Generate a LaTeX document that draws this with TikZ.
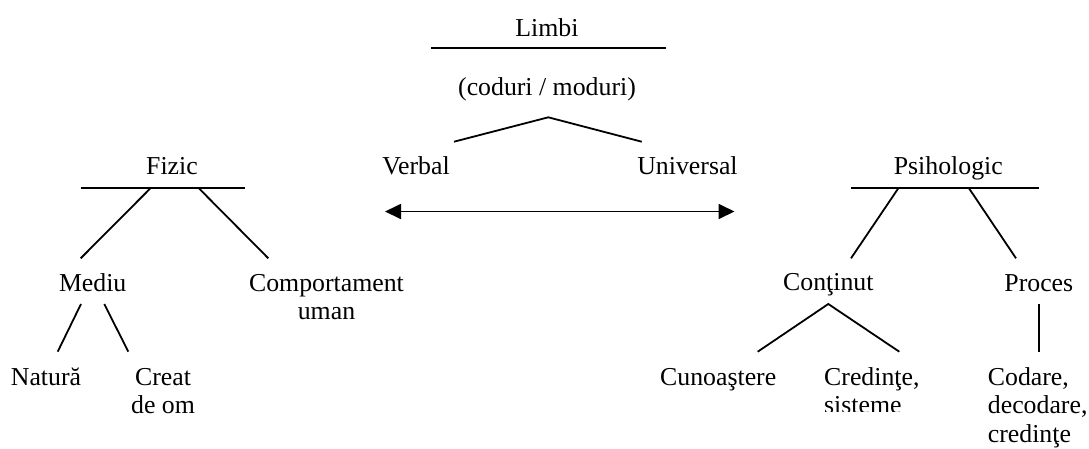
\documentclass[tikz,border=0pt]{standalone}
\usepackage{fontspec}
\setmainfont{Liberation Serif}
\usetikzlibrary{arrows.meta}
\newcommand{\mlc}[1]{\begin{tabular}[t]{@{}c@{}}#1\end{tabular}}
\newcommand{\mll}[1]{\begin{tabular}[t]{@{}l@{}}#1\end{tabular}}
\begin{document}
\begin{tikzpicture}[x=1pt,y=-1pt,
  lbl/.style={anchor=base,inner sep=0pt,font=\fontsize{25.8}{28.5}\selectfont},
  lblw/.style={lbl,anchor=base west},
  con/.style={line width=1.8pt},
  arr/.style={con,{Triangle[length=16pt,width=15pt]}-{Triangle[length=16pt,width=15pt]}}]
\useasboundingbox (0,0) rectangle (1089,448);
% top
\node[lbl] (limbi) at (547,36) {Limbi};
\coordinate (limbiL) at (431,47.7);
\coordinate (limbiR) at (666,47.7);
\draw[con] (limbiL) -- (limbiR);
\node[lbl] (coduri) at (547,95.5) {(coduri / moduri)};
\coordinate (apex) at (548.3,117.3);
\coordinate (verbalTop) at (454,141.7);
\coordinate (univTop) at (641.7,141.7);
\draw[con] (verbalTop) -- (apex) -- (univTop);
\node[lbl] (verbal) at (416,174.5) {Verbal};
\node[lbl] (universal) at (687.5,174.5) {Universal};
\coordinate (arrL) at (385,211.5);
\coordinate (arrR) at (734.5,211.5);
\draw[arr] (arrL) -- (arrR);
% left tree
\node[lbl] (fizic) at (172,174.5) {Fizic};
\coordinate (fizicL) at (80.7,187.7);
\coordinate (fizicR) at (245,187.7);
\draw[con] (fizicL) -- (fizicR);
\coordinate (fizicA) at (151,187.7);
\coordinate (fizicB) at (198.3,187.7);
\coordinate (mediuTop) at (80.7,258.3);
\coordinate (compTop) at (268.3,258.3);
\draw[con] (fizicA) -- (mediuTop);
\draw[con] (fizicB) -- (compTop);
\node[lbl] (mediu) at (92.7,291) {Mediu};
\node[lbl] (comp) at (326.5,291) {\mlc{Comportament\\uman}};
\coordinate (mediuA) at (81,304);
\coordinate (mediuB) at (104.3,304);
\coordinate (naturaTop) at (57.7,351.7);
\coordinate (creatTop) at (128.3,351.7);
\draw[con] (mediuA) -- (naturaTop);
\draw[con] (mediuB) -- (creatTop);
\node[lbl] (natura) at (46,385) {Natură};
\node[lbl] (creat) at (163,385) {\mlc{Creat\\de om}};
% right tree
\node[lbl] (psih) at (948.3,174.5) {Psihologic};
\coordinate (psihL) at (851,188.3);
\coordinate (psihR) at (1039.3,188.3);
\draw[con] (psihL) -- (psihR);
\coordinate (psihA) at (898.3,188.3);
\coordinate (psihB) at (969,188.3);
\coordinate (contTop) at (851,258.3);
\coordinate (procTop) at (1016,258.3);
\draw[con] (psihA) -- (contTop);
\draw[con] (psihB) -- (procTop);
\node[lbl] (continut) at (828.3,290.7) {Conţinut};
\node[lbl] (proces) at (1038.8,291) {Proces};
\coordinate (contApex) at (828.3,304);
\coordinate (cunTop) at (757.7,351.7);
\coordinate (credTop) at (899.3,351.7);
\draw[con] (cunTop) -- (contApex) -- (credTop);
\coordinate (procA) at (1039,304);
\coordinate (codTop) at (1039,352);
\draw[con] (procA) -- (codTop);
\node[lbl] (cunoastere) at (718.2,385) {Cunoaştere};
\begin{scope}
\clip (800,355) rectangle (960,411.3);
\node[lblw] (credinte) at (824,385) {\mll{Credinţe,\\sisteme}};
\end{scope}
\node[lblw] (codare) at (987.7,385) {\mll{Codare,\\decodare,\\credinţe}};
\end{tikzpicture}
\end{document}
